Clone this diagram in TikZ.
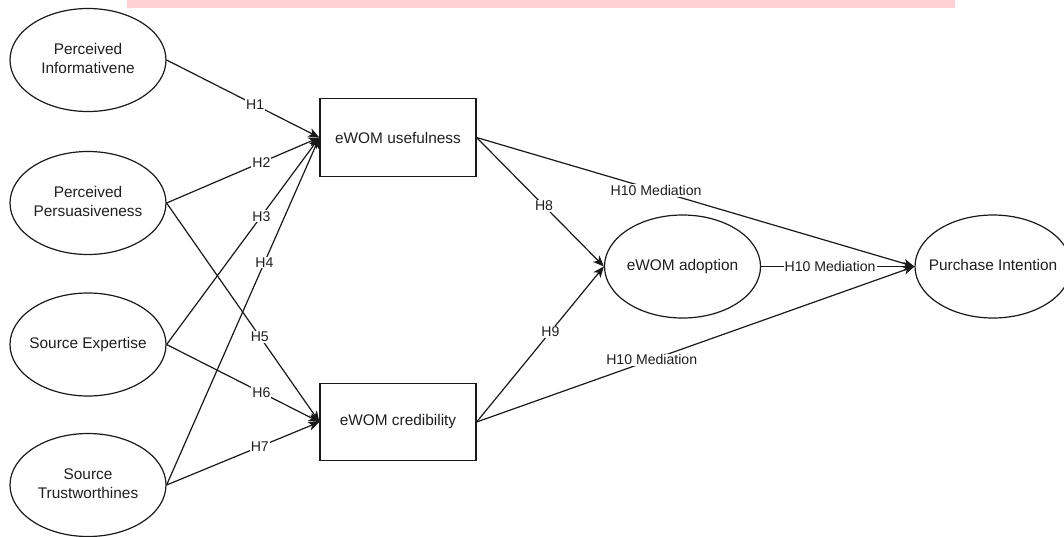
\documentclass[tikz,border=0pt]{standalone}
\usepackage{fontspec}
\setmainfont{Liberation Sans}
\usetikzlibrary{shapes.geometric,arrows.meta}
\newcommand\ndfont{\fontsize{15.4}{18.8}\selectfont}
\newcommand\lbfont{\fontsize{14.1}{16}\selectfont}
\newcommand\zw[1]{\makebox[0pt][c]{\begin{tabular}{@{}c@{}}#1\end{tabular}}}
\definecolor{txt}{HTML}{1E1E1E}
\definecolor{band}{RGB}{255,208,212}
\tikzset{
  ell/.style={ellipse, draw=black!90, line width=1.2pt, minimum width=156pt, minimum height=103pt, inner sep=0pt, font=\ndfont, text=txt},
  box/.style={rectangle, draw=black!90, line width=1.2pt, minimum width=156pt, minimum height=77.5pt, inner sep=0pt, align=center, font=\ndfont, text=txt},
  arr/.style={draw=black!90, line width=1.2pt, -{Stealth[length=11pt,width=9pt,inset=3pt]}},
  lbl/.style={fill=white, inner sep=1pt, font=\lbfont, text=txt}
}
\begin{document}
\begin{tikzpicture}[x=1pt,y=-1pt]
\useasboundingbox (0,0) rectangle (1064,536);
\fill[band] (127,0) rectangle (955,8);
\node[ell] (pi) at (88,60) {\zw{Perceived\\Informativene}};
\node[ell] (pp) at (88,203) {\zw{Perceived\\Persuasiveness}};
\node[ell] (se) at (88,344.5) {\zw{Source Expertise}};
\node[ell] (st) at (88,485) {\zw{Source\\Trustworthines}};
\node[box] (us) at (398,137.5) {eWOM usefulness};
\node[box] (cr) at (398,422) {eWOM credibility};
\node[ell] (ad) at (682.5,266.5) {\zw{eWOM adoption}};
\node[ell] (pu) at (993,266.5) {\zw{Purchase Intention}};
\draw[arr] (pi.east) -- node[lbl,pos=0.58] {H1} (us.west);
\draw[arr] (pp.east) -- node[lbl,pos=0.62] {H2} (us.west);
\draw[arr] (se.east) -- node[lbl,pos=0.62] {H3} (us.west);
\draw[arr] (st.east) -- node[lbl,pos=0.64] {H4} (us.west);
\draw[arr] (pp.east) -- node[lbl,pos=0.61] {H5} (cr.west);
\draw[arr] (se.east) -- node[lbl,pos=0.62] {H6} (cr.west);
\draw[arr] (st.east) -- node[lbl,pos=0.61] {H7} (cr.west);
\draw[arr] (us.east) -- node[lbl,pos=0.53] {H8} (ad.west);
\draw[arr] (cr.east) -- node[lbl,pos=0.58] {H9} (ad.west);
\draw[arr] (us.east) -- node[lbl,pos=0.41] {H10 Mediation} (pu.west);
\draw[arr] (ad.east) -- node[lbl,pos=0.45] {H10 Mediation} (pu.west);
\draw[arr] (cr.east) -- node[lbl,pos=0.40] {H10 Mediation} (pu.west);
\end{tikzpicture}
\end{document}
